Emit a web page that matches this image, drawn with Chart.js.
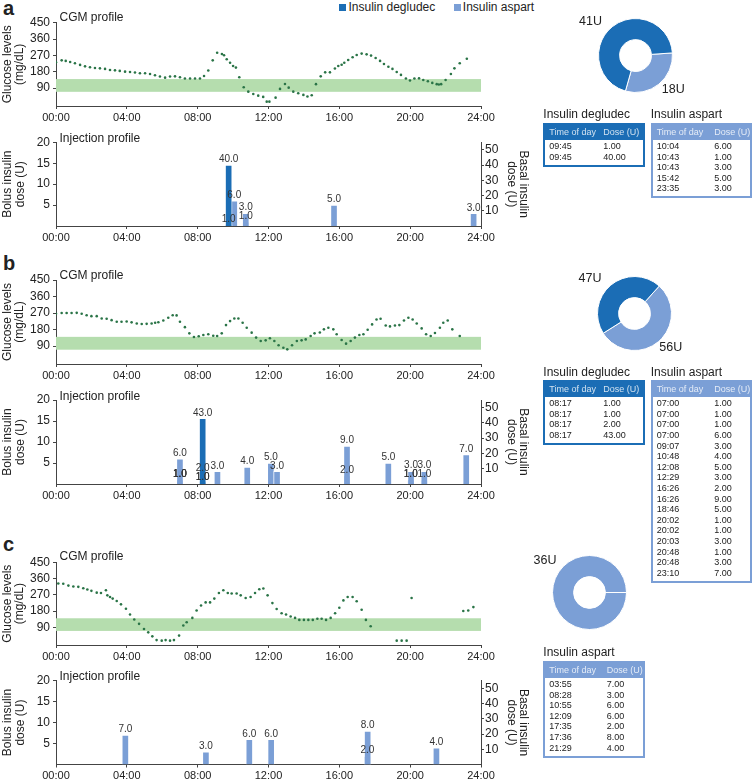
<!DOCTYPE html>
<html>
<head>
<meta charset="utf-8">
<script src="https://cdn.jsdelivr.net/npm/chart.js@4.4.1/dist/chart.umd.min.js"></script>
<style>
  body { margin: 0; background: #fff; font-family: "Liberation Sans", Arial, sans-serif; color: #222; }
  #fig { position: relative; width: 755px; height: 783px; overflow: hidden; }
  #fig canvas { position: absolute; }
  .txt { position: absolute; white-space: nowrap; }
  .letter { position: absolute; font-weight: bold; font-size: 20px; line-height: 20px; }
  .swatch { position: absolute; width: 7px; height: 7px; }
  .tbl { position: absolute; width: 101.7px; border: 2px solid; box-sizing: border-box; font-size: 9px; }
  .tbl .head { position: relative; height: 15.3px; line-height: 15.3px; color: rgba(255,255,255,0.8); }
  .tbl .body { padding: 1px 0 2.5px 0; }
  .tbl .row { position: relative; height: 10.6px; line-height: 10.6px; }
  .tbl span { position: absolute; top: 0; }
</style>
</head>
<body>
<div id="fig"></div>
<script>
// axes
const hourTicks = [0, 4, 8, 12, 16, 20, 24];
const glucoseTicks = [90, 180, 270, 360, 450];
const bolusTicks = [5, 10, 15, 20];
const basalTicks = [10, 20, 30, 40, 50];
const targetRange = [70, 140];

// panel a
const cgmHoursA = [0, 0.32, 0.55, 0.8, 1.07, 1.36, 1.64, 1.92, 2.2, 2.48, 2.77, 3.05, 3.33, 3.6, 3.9, 4.18, 4.46, 4.74, 5.03, 5.31,
  5.59, 5.87, 6.16, 6.44, 6.72, 7.0, 7.28, 7.57, 7.85, 8.13, 8.36, 8.6, 8.85, 9.1, 9.37, 9.49, 9.64, 9.83, 10.0, 10.16,
  10.35, 10.6, 10.86, 11.14, 11.42, 11.7, 11.9, 12.05, 12.4, 12.65, 12.93, 13.14, 13.4, 13.68, 13.97, 14.2, 14.44, 14.68, 14.95, 15.2,
  15.47, 15.75, 15.94, 16.13, 16.28, 16.5, 16.75, 16.98, 17.26, 17.54, 17.79, 18.05, 18.3, 18.52, 18.77, 19.0, 19.24, 19.48, 19.76, 19.99,
  20.24, 20.5, 20.74, 21.0, 21.25, 21.5, 21.62, 21.75, 22.0, 22.3, 22.5, 22.8, 23.2];
const cgmValuesA = [232, 243, 240, 234, 227, 218, 210, 205, 201, 199, 196, 190, 188, 185, 181, 179, 176, 172, 172, 168,
  161, 154, 148, 154, 155, 150, 143, 143, 143, 143, 157, 187, 243, 285, 278, 271, 249, 230, 212, 203,
  150, 95, 71, 58, 49, 42, 16, 16, 38, 86, 113, 93, 71, 62, 53, 44, 51, 112, 155, 177,
  177, 198, 212, 219, 230, 245, 260, 272, 280, 276, 269, 256, 240, 223, 208, 196, 179, 163, 143, 132,
  143, 144, 135, 128, 119, 112, 110, 112, 135, 168, 199, 227, 252];
const degludecTimesA = ['09:45', '09:45'];
const degludecDosesA = [1, 40];
const aspartTimesA = ['10:04', '10:43', '10:43', '15:42', '23:35'];
const aspartDosesA = [6, 1, 3, 5, 3];

// panel b
const cgmHoursB = [0, 0.32, 0.6, 0.88, 1.17, 1.45, 1.73, 2.0, 2.3, 2.58, 2.86, 3.14, 3.43, 3.7, 3.99, 4.27, 4.56, 4.84, 5.12, 5.4,
  5.6, 5.78, 6.06, 6.34, 6.59, 6.81, 7.0, 7.28, 7.53, 7.79, 8.06, 8.32, 8.6, 8.88, 9.1, 9.36, 9.6, 9.83, 10.07, 10.3,
  10.54, 10.77, 11.05, 11.3, 11.56, 11.84, 12.08, 12.33, 12.57, 12.84, 13.06, 13.33, 13.6, 13.87, 14.1, 14.38, 14.6, 14.9, 15.13, 15.38,
  15.66, 15.85, 16.13, 16.38, 16.64, 16.88, 17.13, 17.36, 17.6, 17.85, 18.1, 18.33, 18.62, 18.86, 19.14, 19.39, 19.65, 19.9, 20.14, 20.37,
  20.65, 20.9, 21.16, 21.4, 21.68, 21.87, 22.12, 22.38, 22.8];
const cgmValuesB = [266, 270, 270, 270, 271, 266, 258, 253, 253, 240, 239, 231, 222, 222, 224, 219, 213, 210, 211, 213,
  217, 220, 229, 244, 258, 257, 222, 193, 159, 139, 143, 150, 154, 146, 145, 159, 204, 226, 240, 240,
  217, 190, 163, 136, 117, 121, 132, 117, 94, 81, 72, 94, 117, 121, 126, 145, 159, 164, 181, 190,
  181, 154, 123, 103, 117, 136, 150, 154, 179, 208, 235, 239, 202, 197, 202, 204, 229, 244, 235, 213,
  186, 154, 145, 161, 190, 217, 229, 181, 145];
const degludecTimesB = ['08:17', '08:17', '08:17', '08:17'];
const degludecDosesB = [1, 1, 2, 43];
const aspartTimesB = ['07:00', '07:00', '07:00', '07:00', '09:07', '10:48', '12:08', '12:29', '16:26', '16:26',
  '18:46', '20:02', '20:02', '20:03', '20:48', '20:48', '23:10'];
const aspartDosesB = [1, 1, 1, 6, 3, 4, 5, 3, 2, 9, 5, 1, 1, 3, 1, 3, 7];

// panel c
const cgmHoursC = [0.13, 0.41, 0.7, 0.98, 1.26, 1.54, 1.77, 2.0, 2.3, 2.54, 2.82, 2.9, 3.05, 3.2, 3.43, 3.67, 3.95, 4.18, 4.42, 4.69,
  4.97, 5.21, 5.44, 5.68, 5.97, 6.19, 6.44, 6.66, 6.95, 7.19, 7.38, 7.7, 7.94, 8.19, 8.45, 8.7, 8.94, 9.2, 9.45, 9.7,
  9.92, 10.2, 10.43, 10.71, 10.99, 11.24, 11.48, 11.71, 11.95, 12.22, 12.46, 12.74, 12.99, 13.25, 13.5, 13.74, 14.0, 14.25, 14.5, 14.76,
  15.0, 15.25, 15.51, 15.76, 16.0, 16.23, 16.47, 16.75, 16.98, 17.26, 17.5, 17.77, 19.24, 19.52, 19.8, 20.08, 23.0, 23.28, 23.57];
const cgmValuesC = [333, 331, 321, 316, 314, 306, 299, 292, 282, 280, 295, 267, 258, 249, 236, 217, 193, 161, 133, 109,
  81, 62, 40, 19, 16, 19, 16, 19, 44, 100, 118, 142, 183, 211, 228, 228, 249, 280, 295, 280,
  277, 277, 267, 252, 258, 280, 301, 305, 267, 224, 191, 168, 161, 150, 142, 131, 131, 131, 131, 137,
  137, 131, 142, 168, 198, 239, 258, 258, 234, 187, 131, 96, 16, 16, 16, 252, 180, 183, 202];
const degludecTimesC = [];
const degludecDosesC = [];
const aspartTimesC = ['03:55', '08:28', '10:55', '12:09', '17:35', '17:36', '21:29'];
const aspartDosesC = [7, 3, 6, 6, 2, 8, 4];

const FONT = '"Liberation Sans", Arial, sans-serif';
const DEGLUDEC = '#1b6db5';
const ASPART = '#7b9fd6';
const DOT = '#2a7447';
const BAND = '#b5ddae';
const AXIS = '#444';

Chart.defaults.font.family = FONT;
Chart.defaults.color = '#222';

const fig = document.getElementById('fig');

function toHours(t) {
    const [h, m] = t.split(':').map(Number);
    return h + m / 60;
}

function addCanvas(left, top, w, h) {
    const c = document.createElement('canvas');
    c.width = w;
    c.height = h;
    c.style.left = left + 'px';
    c.style.top = top + 'px';
    c.style.width = w + 'px';
    c.style.height = h + 'px';
    fig.appendChild(c);
    return c;
}

// text with its vertical centre at cy
function addText(text, left, cy, size, center) {
    const d = document.createElement('div');
    d.className = 'txt';
    d.textContent = text;
    d.style.fontSize = size + 'px';
    d.style.lineHeight = size + 'px';
    d.style.left = left + 'px';
    d.style.top = (cy - size / 2) + 'px';
    if (center) d.style.transform = 'translateX(-50%)';
    fig.appendChild(d);
    return d;
}

function addLetter(ch, top) {
    const d = document.createElement('div');
    d.className = 'letter';
    d.textContent = ch;
    d.style.left = '3px';
    d.style.top = top + 'px';
    fig.appendChild(d);
}

function timeAxis(height) {
    return {
        type: 'linear', min: 0, max: 24, offset: false,
        afterBuildTicks: s => { s.ticks = hourTicks.map(v => ({ value: v })); },
        afterFit: s => { s.height = height; },
        ticks: {
            callback: v => String(v).padStart(2, '0') + ':00',
            font: { size: 11 }, padding: 2, maxRotation: 0, autoSkip: false, color: '#222'
        },
        grid: { drawOnChartArea: false, tickLength: 3, color: AXIS, offset: false },
        border: { color: AXIS }
    };
}

function leftAxis(min, max, ticks, title, lineHeight, pad) {
    return {
        position: 'left', min: min, max: max,
        afterBuildTicks: s => { s.ticks = ticks.map(v => ({ value: v })); },
        afterFit: s => { s.width = 56; },
        ticks: { font: { size: 12 }, padding: 3, color: '#222' },
        grid: { drawOnChartArea: false, tickLength: 3, color: AXIS },
        border: { color: AXIS },
        title: { display: true, text: title, color: '#222', font: { size: 12, lineHeight: lineHeight }, padding: { top: pad, bottom: 0 } }
    };
}

const rightAxis = {
    position: 'right', min: 0, max: 55,
    afterBuildTicks: s => { s.ticks = basalTicks.map(v => ({ value: v })); },
    afterFit: s => { s.width = 50; },
    ticks: { font: { size: 12 }, padding: 1, color: '#222' },
    grid: { drawOnChartArea: false, tickLength: 3, color: AXIS },
    border: { color: AXIS },
    title: { display: true, text: ['Basal insulin', 'dose (U)'], color: '#222', font: { size: 12, lineHeight: 1.05 }, padding: { top: 1.2, bottom: 0 } }
};

// green target band behind the CGM dots
const bandPlugin = {
    id: 'band',
    beforeDatasetsDraw(chart) {
        const { ctx, chartArea, scales } = chart;
        const top = scales.y.getPixelForValue(targetRange[1]);
        const bottom = scales.y.getPixelForValue(targetRange[0]);
        ctx.save();
        ctx.fillStyle = BAND;
        ctx.fillRect(chartArea.left, top, chartArea.right - chartArea.left, bottom - top);
        ctx.restore();
    }
};

// dose labels above each bar, pushed up when two different ones collide
const barLabels = {
    id: 'barLabels',
    afterDatasetsDraw(chart) {
        const ctx = chart.ctx;
        const placed = [];
        ctx.save();
        ctx.font = '10px ' + FONT;
        ctx.fillStyle = '#333';
        ctx.textAlign = 'center';
        ctx.textBaseline = 'middle';
        chart.data.datasets.forEach((ds, i) => {
            chart.getDatasetMeta(i).data.forEach((bar, j) => {
                const text = ds.data[j].y.toFixed(1);
                let y = bar.y - 5.5;
                let moved = true;
                while (moved) {
                    moved = false;
                    for (const p of placed) {
                        if (p.text !== text && Math.abs(p.x - bar.x) < 3 && Math.abs(p.y - y) < 9) {
                            y = p.y - 9;
                            moved = true;
                        }
                    }
                }
                placed.push({ x: bar.x, y: y, text: text });
                ctx.fillText(text, bar.x, y);
            });
        });
        ctx.restore();
    }
};

function cgmChart(top, height, padTop, hours, values) {
    const c = addCanvas(0, top, 500, height);
    new Chart(c, {
        type: 'scatter',
        data: {
            datasets: [{
                data: hours.map((h, i) => ({ x: h, y: values[i] })),
                pointRadius: 1.3,
                pointBackgroundColor: DOT,
                pointBorderWidth: 0,
                borderWidth: 0
            }]
        },
        options: {
            responsive: false, animation: false, events: [],
            layout: { padding: { top: padTop, right: 19, left: 0, bottom: 0 } },
            plugins: { legend: { display: false }, tooltip: { enabled: false } },
            scales: {
                x: timeAxis(20),
                y: leftAxis(-8, 450, glucoseTicks, ['Glucose levels', '(mg/dL)'], 1.0, 1.7)
            }
        },
        plugins: [bandPlugin]
    });
}

function injectionChart(top, height, padTop, xHeight, degTimes, degDoses, aspTimes, aspDoses) {
    const c = addCanvas(0, top, 531, height);
    new Chart(c, {
        type: 'bar',
        data: {
            datasets: [{
                label: 'Insulin degludec',
                data: degTimes.map((t, i) => ({ x: toHours(t), y: degDoses[i] })),
                yAxisID: 'y2',
                backgroundColor: DEGLUDEC
            }, {
                label: 'Insulin aspart',
                data: aspTimes.map((t, i) => ({ x: toHours(t), y: aspDoses[i] })),
                yAxisID: 'y',
                backgroundColor: ASPART
            }]
        },
        options: {
            responsive: false, animation: false, events: [],
            layout: { padding: { top: padTop, right: 0, left: 0, bottom: 0 } },
            datasets: { bar: { barThickness: 7, grouped: false, borderWidth: 1, borderColor: 'rgba(255,255,255,0.55)' } },
            plugins: { legend: { display: false }, tooltip: { enabled: false } },
            scales: {
                x: timeAxis(xHeight),
                y: leftAxis(0, 20, bolusTicks, ['Bolus insulin', 'dose (U)'], 1.08, 1.5),
                y2: rightAxis
            }
        },
        plugins: [barLabels]
    });
}

function donut(cx, cy, size, rotation, aspDoses, degDoses) {
    const total = arr => arr.reduce((a, b) => a + b, 0);
    const c = addCanvas(cx - size / 2, cy - size / 2, size, size);
    new Chart(c, {
        type: 'doughnut',
        data: {
            labels: ['Insulin aspart', 'Insulin degludec'],
            datasets: [{
                data: [total(aspDoses), total(degDoses)],
                backgroundColor: [ASPART, DEGLUDEC],
                borderColor: '#fff',
                borderWidth: 1
            }]
        },
        options: {
            responsive: false, animation: false, events: [],
            rotation: rotation,
            cutout: '43%',
            plugins: { legend: { display: false }, tooltip: { enabled: false } }
        }
    });
    return [total(aspDoses), total(degDoses)];
}

function doseTable(left, top, title, color, times, doses, doseCol) {
    addText(title, left, top - 8.5, 12);
    const box = document.createElement('div');
    box.className = 'tbl';
    box.style.left = left + 'px';
    box.style.top = top + 'px';
    box.style.borderColor = color;
    const head = document.createElement('div');
    head.className = 'head';
    head.style.background = color;
    head.innerHTML = '<span style="left:4px">Time of day</span><span style="left:' + doseCol + 'px">Dose (U)</span>';
    box.appendChild(head);
    const body = document.createElement('div');
    body.className = 'body';
    times.forEach((t, i) => {
        const row = document.createElement('div');
        row.className = 'row';
        row.innerHTML = '<span style="left:4px">' + t + '</span><span style="left:' + doseCol + 'px">' + doses[i].toFixed(2) + '</span>';
        body.appendChild(row);
    });
    box.appendChild(body);
    fig.appendChild(box);
}

// legend
const sw1 = document.createElement('div');
sw1.className = 'swatch'; sw1.style.left = '339px'; sw1.style.top = '4px'; sw1.style.background = DEGLUDEC;
fig.appendChild(sw1);
addText('Insulin degludec', 348.5, 7, 12);
const sw2 = document.createElement('div');
sw2.className = 'swatch'; sw2.style.left = '454px'; sw2.style.top = '4px'; sw2.style.background = ASPART;
fig.appendChild(sw2);
addText('Insulin aspart', 462.8, 7, 12);

// panel a
addLetter('a', -2);
cgmChart(0, 126, 22.7, cgmHoursA, cgmValuesA);
injectionChart(126, 120, 16.3, 20, degludecTimesA, degludecDosesA, aspartTimesA, aspartDosesA);
addText('CGM profile', 59.5, 17, 12);
addText('Injection profile', 59.5, 138.3, 12);
const totA = donut(635, 55, 75, 86, aspartDosesA, degludecDosesA);
addText(totA[1] + 'U', 590.5, 21.7, 12.5, true);
addText(totA[0] + 'U', 673.3, 89.3, 12.5, true);
doseTable(543.3, 122.7, 'Insulin degludec', DEGLUDEC, degludecTimesA, degludecDosesA, 58);
doseTable(650.7, 122.7, 'Insulin aspart', ASPART, aspartTimesA, aspartDosesA, 61.5);

// panel b
addLetter('b', 253);
cgmChart(258, 126, 22, cgmHoursB, cgmValuesB);
injectionChart(384, 120, 16, 20, degludecTimesB, degludecDosesB, aspartTimesB, aspartDosesB);
addText('CGM profile', 59.5, 275, 12);
addText('Injection profile', 59.5, 396, 12);
const totB = donut(634.3, 313.3, 75, 42, aspartDosesB, degludecDosesB);
addText(totB[1] + 'U', 590, 278.3, 12.5, true);
addText(totB[0] + 'U', 670.8, 347.3, 12.5, true);
doseTable(543.3, 380, 'Insulin degludec', DEGLUDEC, degludecTimesB, degludecDosesB, 58);
doseTable(650.7, 380, 'Insulin aspart', ASPART, aspartTimesB, aspartDosesB, 61.5);

// panel c
addLetter('c', 534);
cgmChart(540, 125, 22.3, cgmHoursC, cgmValuesC);
injectionChart(664, 119, 16.7, 18.5, degludecTimesC, degludecDosesC, aspartTimesC, aspartDosesC);
addText('CGM profile', 59.5, 556, 12);
addText('Injection profile', 59.5, 676, 12);
const totC = donut(589.3, 592.3, 75, 90, aspartDosesC, degludecDosesC);
addText(totC[0] + 'U', 545, 560, 12.5, true);
doseTable(543.3, 660.7, 'Insulin aspart', ASPART, aspartTimesC, aspartDosesC, 61.5);
</script>
</body>
</html>
